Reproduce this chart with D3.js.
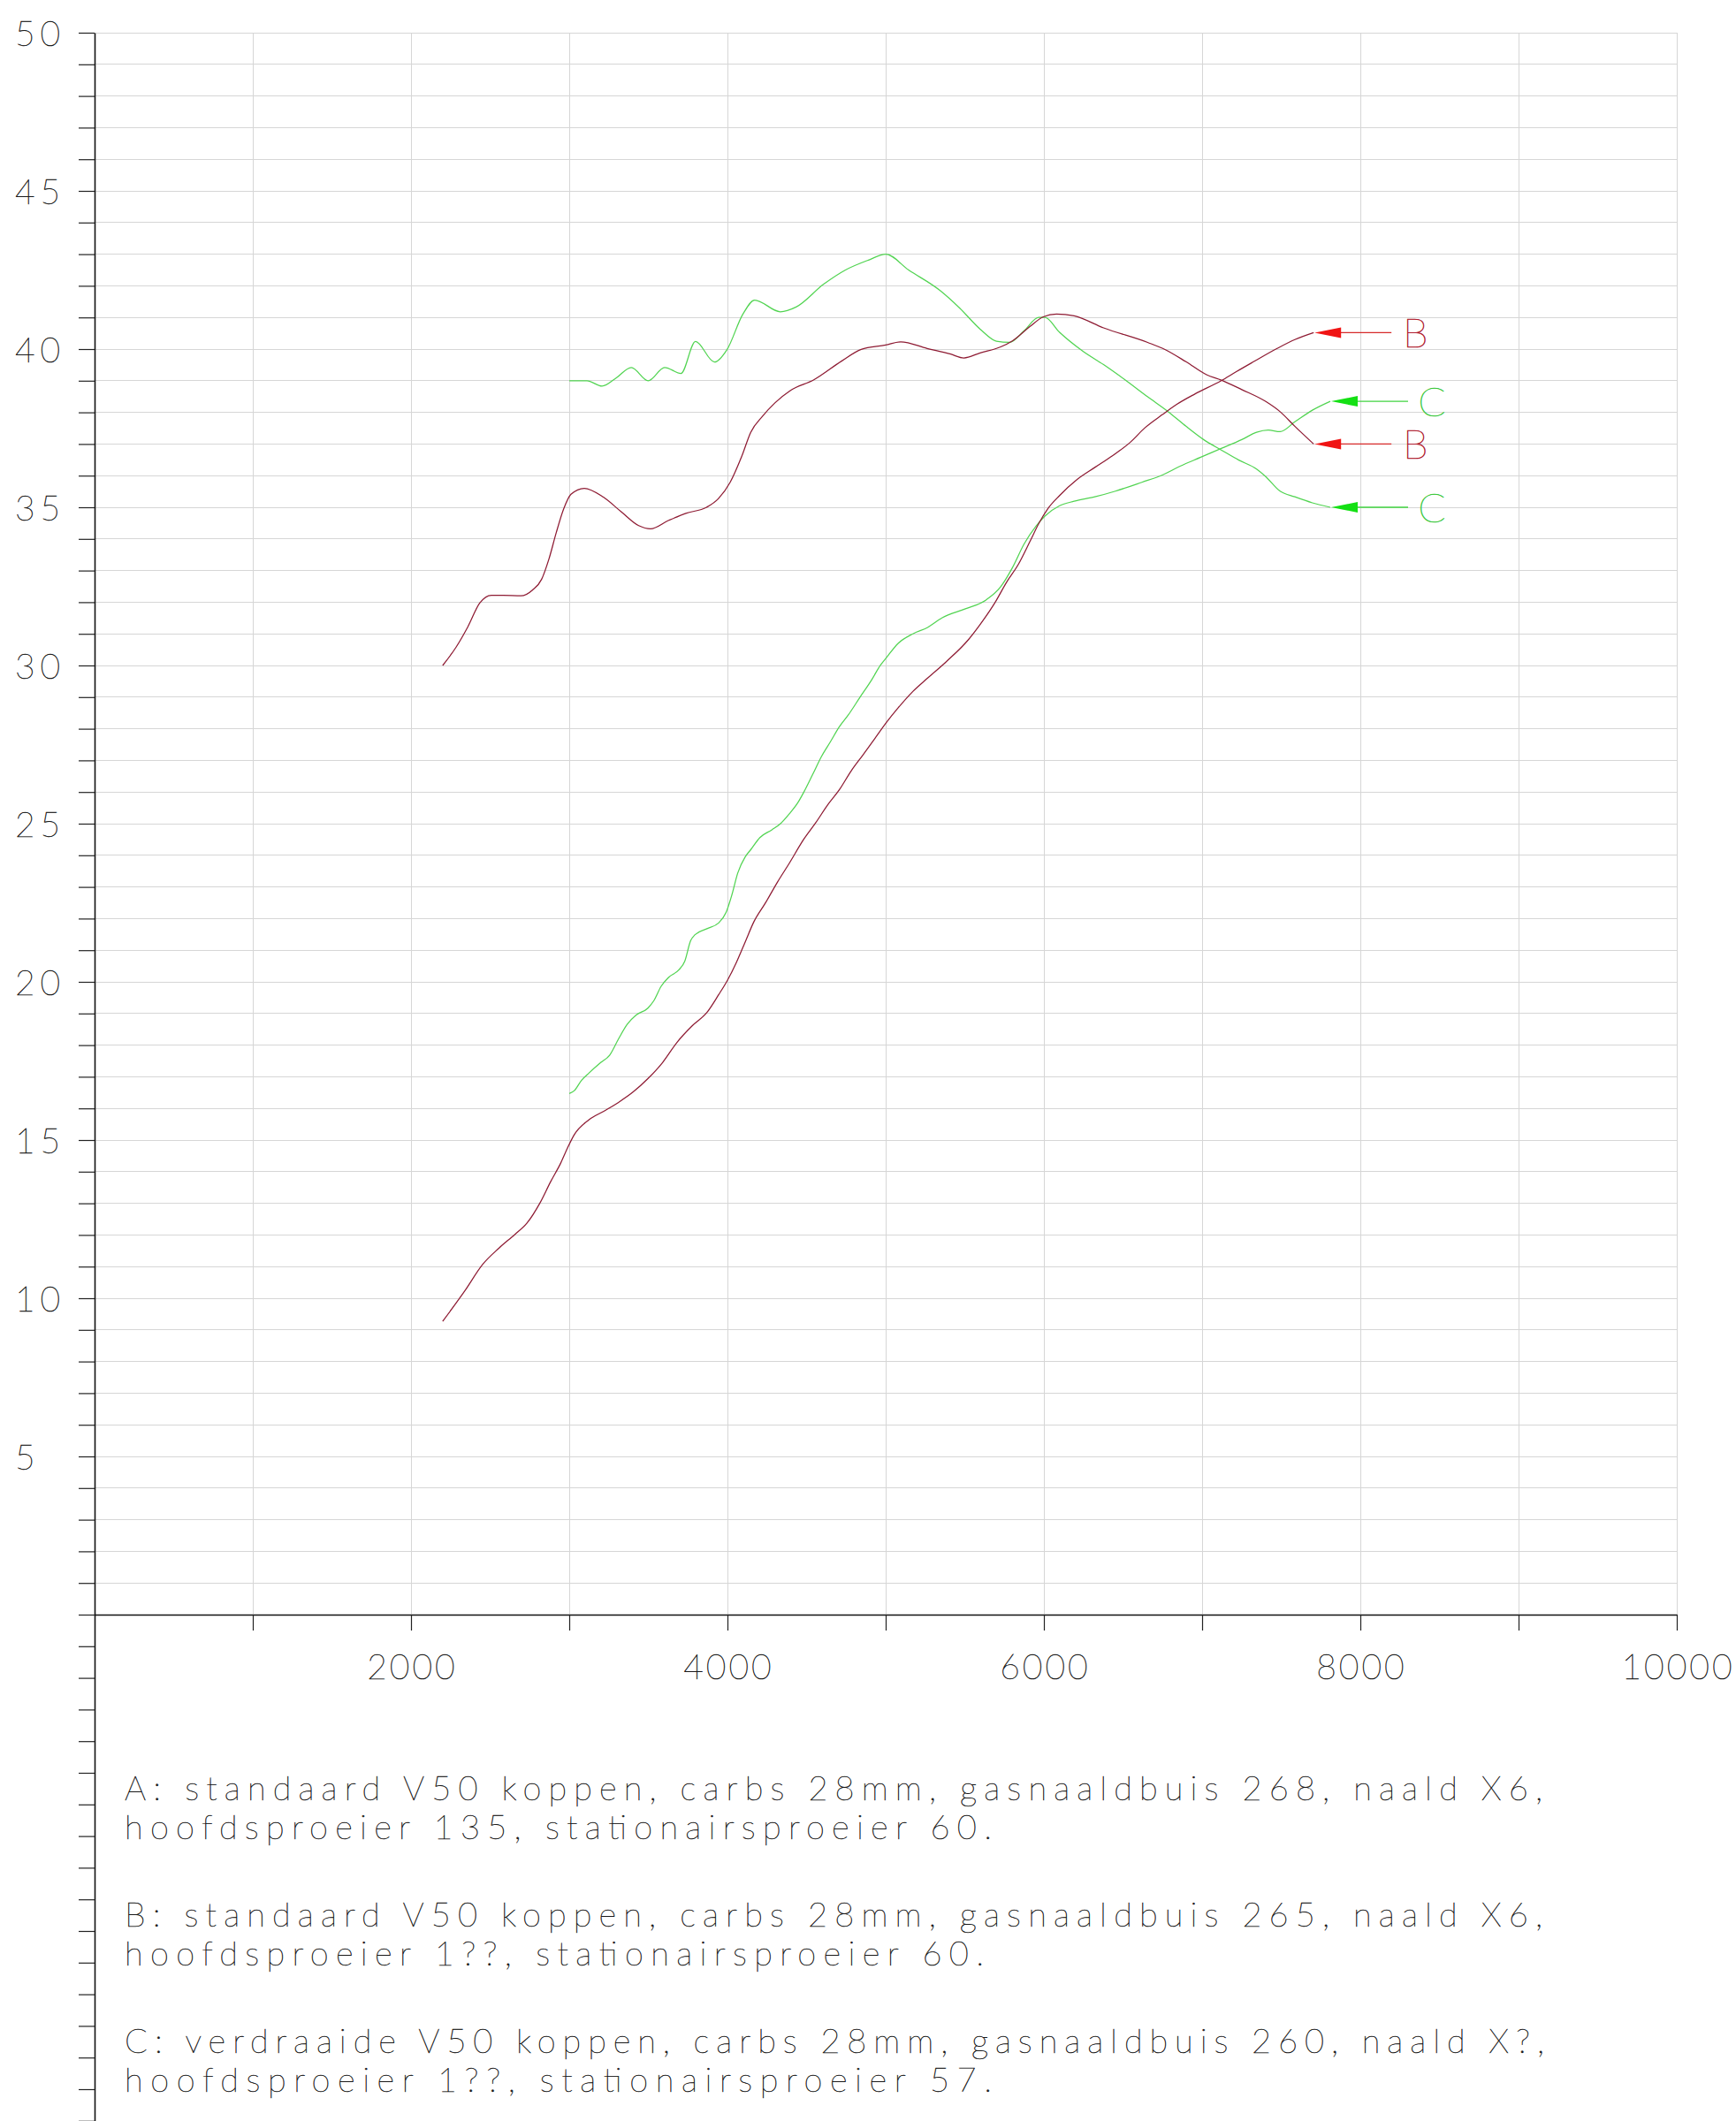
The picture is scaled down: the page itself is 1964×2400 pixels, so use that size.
<!DOCTYPE html>
<html><head><meta charset="utf-8">
<script src="https://cdn.jsdelivr.net/npm/d3@7"></script>
<style>body{margin:0;background:#fff} svg{display:block}</style>
</head><body>
<script>
// ---------------- data ----------------
const rpmTicks = [1000,2000,3000,4000,5000,6000,7000,8000,9000,10000];
const rpmLabels = [2000,4000,6000,8000,10000];
const yLabels = [5,10,15,20,25,30,35,40,45,50];

const serieB1 = [[2200,30.0],[2285,30.58],[2360,31.23],[2434,31.97],[2508,32.22],[2583,32.22],[2695,32.2],[2769,32.39],[2825,32.72],[2872,33.37],[2918,34.2],[2965,34.95],[3011,35.41],[3095,35.6],[3216,35.32],[3328,34.86],[3439,34.42],[3514,34.32],[3626,34.58],[3737,34.81],[3868,35.0],[3942,35.27],[4017,35.79],[4091,36.62],[4147,37.37],[4222,37.88],[4300,38.3],[4397,38.69],[4546,39.03],[4721,39.62],[4845,39.99],[5000,40.13],[5095,40.23],[5262,40.02],[5411,39.84],[5494,39.72],[5597,39.88],[5727,40.07],[5801,40.26],[5913,40.72],[5996,41.02],[6080,41.11],[6191,41.05],[6377,40.67],[6656,40.21],[6768,39.98],[6898,39.6],[7028,39.19],[7121,39.02],[7251,38.72],[7400,38.35],[7493,38.02],[7586,37.56],[7705,37.0]];

const serieB2 = [[2200,9.27],[2341,10.24],[2453,11.07],[2555,11.58],[2657,12.02],[2732,12.37],[2816,13.02],[2881,13.67],[2946,14.27],[2991,14.77],[3032,15.17],[3125,15.64],[3218,15.91],[3311,16.19],[3404,16.52],[3497,16.94],[3590,17.45],[3683,18.1],[3777,18.61],[3870,19.03],[3944,19.59],[4000,20.05],[4056,20.61],[4112,21.26],[4168,21.91],[4242,22.51],[4317,23.16],[4391,23.75],[4484,24.52],[4558,25.03],[4633,25.59],[4707,26.07],[4781,26.66],[4856,27.17],[4930,27.68],[5005,28.2],[5079,28.66],[5172,29.18],[5265,29.6],[5383,30.12],[5522,30.81],[5615,31.42],[5690,31.98],[5764,32.63],[5838,33.19],[5913,33.93],[5968,34.49],[6024,34.95],[6099,35.37],[6210,35.88],[6322,36.26],[6433,36.63],[6545,37.05],[6638,37.51],[6749,37.93],[6842,38.26],[6954,38.58],[7121,39.0],[7214,39.28],[7325,39.6],[7474,40.02],[7586,40.3],[7705,40.52]];

const serieC1 = [[3000,39.0],[3112,39.0],[3207,38.83],[3300,39.1],[3392,39.42],[3499,39.0],[3603,39.42],[3706,39.23],[3798,40.24],[3918,39.59],[3998,39.99],[4097,41.1],[4172,41.55],[4334,41.18],[4434,41.33],[4608,42.05],[4746,42.5],[4895,42.82],[5000,43.0],[5145,42.5],[5344,41.85],[5467,41.3],[5597,40.63],[5700,40.25],[5783,40.21],[5875,40.58],[5968,41.0],[6006,41.0],[6099,40.53],[6247,39.93],[6377,39.51],[6507,39.05],[6656,38.49],[6786,38.02],[6898,37.56],[7009,37.14],[7121,36.81],[7232,36.49],[7344,36.21],[7400,35.98],[7493,35.51],[7586,35.33],[7697,35.14],[7810,35.0]];

const serieC2 = [[3000,16.47],[3032,16.56],[3078,16.89],[3125,17.12],[3199,17.45],[3255,17.68],[3311,18.19],[3367,18.66],[3423,18.95],[3497,19.17],[3534,19.4],[3581,19.86],[3628,20.14],[3693,20.38],[3730,20.65],[3767,21.3],[3795,21.49],[3870,21.68],[3944,21.86],[3991,22.19],[4028,22.75],[4065,23.44],[4112,23.95],[4149,24.19],[4205,24.56],[4279,24.8],[4335,25.0],[4391,25.31],[4447,25.68],[4484,26.01],[4540,26.57],[4595,27.13],[4651,27.59],[4707,28.06],[4763,28.43],[4837,28.99],[4912,29.55],[4967,30.01],[5005,30.25],[5079,30.7],[5172,31.0],[5265,31.2],[5355,31.5],[5504,31.79],[5634,32.07],[5727,32.49],[5801,33.09],[5875,33.84],[5950,34.4],[6006,34.72],[6099,35.05],[6191,35.19],[6322,35.33],[6452,35.51],[6619,35.79],[6749,36.02],[6861,36.3],[6991,36.58],[7121,36.86],[7251,37.14],[7344,37.37],[7418,37.44],[7493,37.39],[7586,37.7],[7697,38.07],[7810,38.35]];

const legendLines = [
  "A: standaard V50 koppen, carbs 28mm, gasnaaldbuis 268, naald X6,",
  "hoofdsproeier 135, stationairsproeier 60.",
  "B: standaard V50 koppen, carbs 28mm, gasnaaldbuis 265, naald X6,",
  "hoofdsproeier 1??, stationairsproeier 60.",
  "C: verdraaide V50 koppen, carbs 28mm, gasnaaldbuis 260, naald X?,",
  "hoofdsproeier 1??, stationairsproeier 57."
];

// ---------------- layout ----------------
const W = 1964, H = 2400;
const FONT = "Lato, 'Open Sans', Roboto, sans-serif";
const TXT = "#1a1a1a";
const svg = d3.select("body").append("svg").attr("width", W).attr("height", H);
const x = d3.scaleLinear().domain([0, 10000]).range([107, 1897]);
const y = d3.scaleLinear().domain([0, 50]).range([1827, 37]);

function thinText(sel, color) {
  return sel.attr("font-family", FONT).attr("font-weight", 100)
    .attr("fill", color).attr("stroke", color).attr("stroke-width", 0.45);
}

// grid
const grid = svg.append("g").attr("shape-rendering", "crispEdges");
grid.selectAll("line.h").data(d3.range(1, 51)).join("line")
  .attr("x1", x(0)).attr("x2", x(10000))
  .attr("y1", d => y(d)).attr("y2", d => y(d))
  .attr("stroke", "#d6d6d6").attr("stroke-width", 1);
grid.selectAll("line.v").data(rpmTicks).join("line")
  .attr("x1", d => x(d)).attr("x2", d => x(d))
  .attr("y1", y(50)).attr("y2", y(0))
  .attr("stroke", "#d6d6d6").attr("stroke-width", 1);

// y axis (extends below the x axis down to page bottom)
const yExt = y.copy().domain([-16.2, 50]).range([y(-16.2), y(50)]);
const yAxis = svg.append("g").attr("transform", `translate(${x(0)},0)`)
  .call(d3.axisLeft(yExt).tickValues(d3.range(-16, 51)).tickSize(18).tickSizeOuter(0).tickFormat(""));
yAxis.select(".domain").attr("stroke", "#111").attr("stroke-width", 1.6);
yAxis.selectAll(".tick line").attr("stroke", "#222").attr("stroke-width", 1.2);

// x axis
const xAxis = svg.append("g").attr("transform", `translate(0,${y(0)})`)
  .call(d3.axisBottom(x).tickValues(rpmTicks).tickSize(18).tickSizeOuter(0).tickFormat(""));
xAxis.select(".domain").attr("stroke", "#111").attr("stroke-width", 1.6);
xAxis.selectAll(".tick line").attr("stroke", "#222").attr("stroke-width", 1.2);

// tick labels
thinText(svg.append("g").selectAll("text").data(yLabels).join("text")
  .attr("x", 17).attr("y", d => y(d) + 15)
  .attr("font-size", 39).attr("letter-spacing", 6), TXT)
  .text(d => d);
thinText(svg.append("g").selectAll("text").data(rpmLabels).join("text")
  .attr("x", d => x(d) + 1.5).attr("y", 1900)
  .attr("text-anchor", "middle")
  .attr("font-size", 39).attr("letter-spacing", 3), TXT)
  .text(d => d);

// curves
const line = d3.line().x(d => x(d[0])).y(d => y(d[1])).curve(d3.curveMonotoneX);
const allSeries = [serieC1, serieC2, serieB1, serieB2];
const allNames = ["C", "C", "B", "B"];
const styles = {
  B: { curve: "#8e1b33", arrow: "#f01414", lead: "#d62a2a", label: "#b01e30" },
  C: { curve: "#52d452", arrow: "#14e014", lead: "#40d440", label: "#3cc83c" }
};
svg.append("g").selectAll("path").data(allSeries).join("path")
  .attr("d", line).attr("fill", "none")
  .attr("stroke", (d, i) => styles[allNames[i]].curve)
  .attr("stroke-width", 1.25).attr("stroke-linejoin", "round");

// end-of-curve arrows with labels
const ann = svg.append("g").selectAll("g").data(allSeries).join("g")
  .attr("transform", d => { const p = d[d.length - 1]; return `translate(${x(p[0])},${y(p[1])})`; });
ann.append("line").attr("x1", 30).attr("x2", 88).attr("y1", 0).attr("y2", 0)
  .attr("stroke", (d, i) => styles[allNames[i]].lead).attr("stroke-width", 1.3);
ann.append("path").attr("d", "M1,0 L31,-6 L31,6 Z")
  .attr("fill", (d, i) => styles[allNames[i]].arrow);
ann.append("text").attr("x", 115).attr("y", 16.5).attr("text-anchor", "middle")
  .attr("font-family", FONT).attr("font-weight", 100).attr("font-size", 46)
  .attr("fill", (d, i) => styles[allNames[i]].label)
  .attr("stroke", (d, i) => styles[allNames[i]].label).attr("stroke-width", 0.6)
  .text((d, i) => allNames[i]);

// legend text
const legendY = [2037, 2081, 2180, 2224, 2323, 2367];
const legendW = [1604, 981, 1604, 972, 1606, 981];
thinText(svg.append("g").selectAll("text").data(legendLines).join("text")
  .attr("x", 141).attr("y", (d, i) => legendY[i])
  .attr("font-size", 38)
  .attr("textLength", (d, i) => legendW[i]).attr("lengthAdjust", "spacing"), TXT)
  .text(d => d);
</script>
</body></html>
